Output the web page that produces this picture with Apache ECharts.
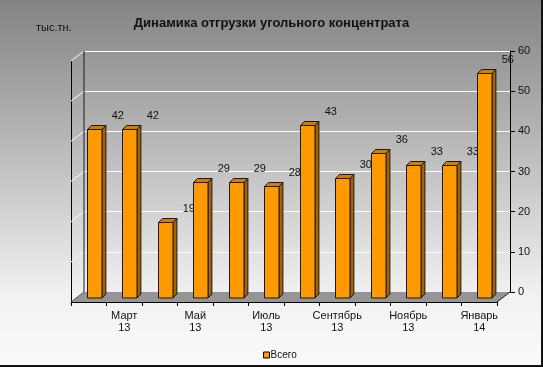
<!DOCTYPE html>
<html>
<head>
<meta charset="utf-8">
<script src="https://cdn.jsdelivr.net/npm/echarts@6/dist/echarts.min.js"></script>
<style>
html,body{margin:0;padding:0;background:#fff;}
#chart{width:543px;height:367px;}
</style>
</head>
<body>
<div id="chart"></div>
<script>
// ---- data ----
const categories = ['Февраль\n13','Март\n13','Апрель\n13','Май\n13','Июнь\n13','Июль\n13','Август\n13','Сентябрь\n13','Октябрь\n13','Ноябрь\n13','Декабрь\n13','Январь\n14'];
const values = [42, 42, 19, 29, 29, 28, 43, 30, 36, 33, 33, 56];
const seriesName = 'Всего';
const titleText = 'Динамика отгрузки угольного концентрата';
const unitText = 'тыс.тн.';
const yMin = 0, yMax = 60, yStep = 10;

// ---- styling ----
const DX = -13, DY = 10;           // depth vector back -> front
const FONT = 'Liberation Sans, Arial, sans-serif';

const chart = echarts.init(document.getElementById('chart'), null, {renderer: 'canvas'});

function wallsRender(params, api) {
  const cs = params.coordSys;
  const x0 = cs.x, x1 = cs.x + cs.width, yb = cs.y + cs.height, yt = cs.y;
  const children = [];
  children.push({type: 'polygon', shape: {points: [[x0, yb], [x1, yb], [x1 + DX, yb + DY], [x0 + DX, yb + DY]]},
    style: {fill: '#959595', stroke: null}});
  for (let t = yMin + yStep; t <= yMax; t += yStep) {
    const y = api.coord([0, t])[1];
    children.push({type: 'line', shape: {x1: x0, y1: y, x2: x0 + DX, y2: y + DY},
      style: {stroke: '#ffffff', lineWidth: 1}});
  }
  children.push({type: 'line', shape: {x1: x0, y1: yt, x2: x0, y2: yb}, style: {stroke: '#1a1a1a', lineWidth: 1}});
  children.push({type: 'line', shape: {x1: x0, y1: yb, x2: x0 + DX, y2: yb + DY}, style: {stroke: '#555', lineWidth: 1}});
  children.push({type: 'line', shape: {x1: x1, y1: yb, x2: x1 + DX, y2: yb + DY}, style: {stroke: '#1a1a1a', lineWidth: 1}});
  return {type: 'group', children: children};
}

function barRender(params, api) {
  const i = api.value(0), v = api.value(1);
  const base = api.coord([i, 0]);
  const top = api.coord([i, v]);
  const cw = api.size([1, 0])[0];
  const w = cw * 0.4;
  const tFront = 0.6, tBack = 0.3;
  const fx0 = Math.round(base[0] - w / 2 + DX * tFront) + 0.5;
  const fx1 = Math.round(fx0 + w);
  const fyT = Math.round(top[1] + DY * tFront) + 0.5;
  const fyB = Math.round(base[1] + DY * tFront);
  const ox = DX * (tBack - tFront), oy = DY * (tBack - tFront) - 1;
  const stroke = '#1a1a1a';
  return {type: 'group', children: [
    {type: 'polygon', shape: {points: [[fx1, fyT], [fx1 + ox, fyT + oy], [fx1 + ox, fyB + oy], [fx1, fyB]]},
      style: {fill: '#a86200', stroke: stroke, lineWidth: 1}},
    {type: 'polygon', shape: {points: [[fx0, fyT], [fx0 + ox, fyT + oy], [fx1 + ox, fyT + oy], [fx1, fyT]]},
      style: {fill: '#d17e00', stroke: stroke, lineWidth: 1}},
    {type: 'rect', shape: {x: fx0, y: fyT, width: fx1 - fx0, height: fyB - fyT},
      style: {fill: '#ff9900', stroke: stroke, lineWidth: 1}},
    {type: 'text', style: {text: String(v), x: (fx0 + fx1) / 2 + 23, y: fyT - 14,
      align: 'center', verticalAlign: 'middle', fill: '#111', font: '11px ' + FONT}}
  ]};
}

const option = {
  animation: false,
  backgroundColor: {
    type: 'linear', x: 0, y: 0, x2: 0, y2: 1,
    colorStops: [{offset: 0, color: '#838383'}, {offset: 0.8, color: '#f1f1f1'}, {offset: 1, color: '#fbfbfb'}]
  },
  title: {
    text: titleText, left: 'center', top: 12,
    textStyle: {fontFamily: FONT, fontSize: 13, fontWeight: 'bold', color: '#111'}
  },
  graphic: [
    {type: 'text', left: 36, top: 22, style: {text: unitText, font: '11px ' + FONT, fill: '#111'}},
    {type: 'rect', shape: {x: 541, y: 0, width: 2, height: 367}, style: {fill: '#111'}},
    {type: 'rect', shape: {x: 0, y: 365, width: 543, height: 2}, style: {fill: '#111'}}
  ],
  legend: {
    data: [seriesName], left: 258, top: 345, icon: 'rect', itemWidth: 6, itemHeight: 6, itemGap: 4,
    itemStyle: {borderColor: '#000', borderWidth: 1},
    textStyle: {fontFamily: FONT, fontSize: 10, color: '#111', padding: [0, 0, 0, -4]}
  },
  grid: [
    {left: 84, right: 33, top: 51, bottom: 75},
    {left: 71, right: 46, top: 61, bottom: 65}
  ],
  xAxis: [
    {type: 'category', gridIndex: 0, data: categories, show: false},
    {type: 'category', gridIndex: 1, data: categories, boundaryGap: true,
      axisLine: {show: true, lineStyle: {color: '#000', width: 1}},
      axisTick: {show: true, interval: 0, length: 4, lineStyle: {color: '#000'}},
      axisLabel: {interval: function (idx) { return idx % 2 === 1; }, margin: 8, color: '#111',
        fontFamily: FONT, fontSize: 11, lineHeight: 12}}
  ],
  yAxis: [
    {type: 'value', gridIndex: 0, position: 'right', min: yMin, max: yMax, interval: yStep,
      axisLine: {show: true, lineStyle: {color: '#000'}},
      axisTick: {show: true, length: 5, lineStyle: {color: '#000'}},
      axisLabel: {margin: 8, color: '#111', fontFamily: FONT, fontSize: 11},
      splitLine: {show: true, lineStyle: {color: '#ffffff', width: 1}}},
    {type: 'value', gridIndex: 1, position: 'left', min: yMin, max: yMax, interval: yStep,
      axisLine: {show: true, lineStyle: {color: '#000'}},
      axisTick: {show: false}, axisLabel: {show: false}, splitLine: {show: false}}
  ],
  series: [
    {type: 'custom', name: '_walls', xAxisIndex: 0, yAxisIndex: 0, renderItem: wallsRender,
      data: [[0, 0]], z: 1, silent: true},
    {type: 'custom', name: seriesName, xAxisIndex: 0, yAxisIndex: 0, renderItem: barRender,
      itemStyle: {color: '#ff9900'},
      encode: {x: 0, y: 1},
      data: values.map(function (v, i) { return [i, v]; }), z: 3}
  ]
};
chart.setOption(option);
</script>
</body>
</html>
